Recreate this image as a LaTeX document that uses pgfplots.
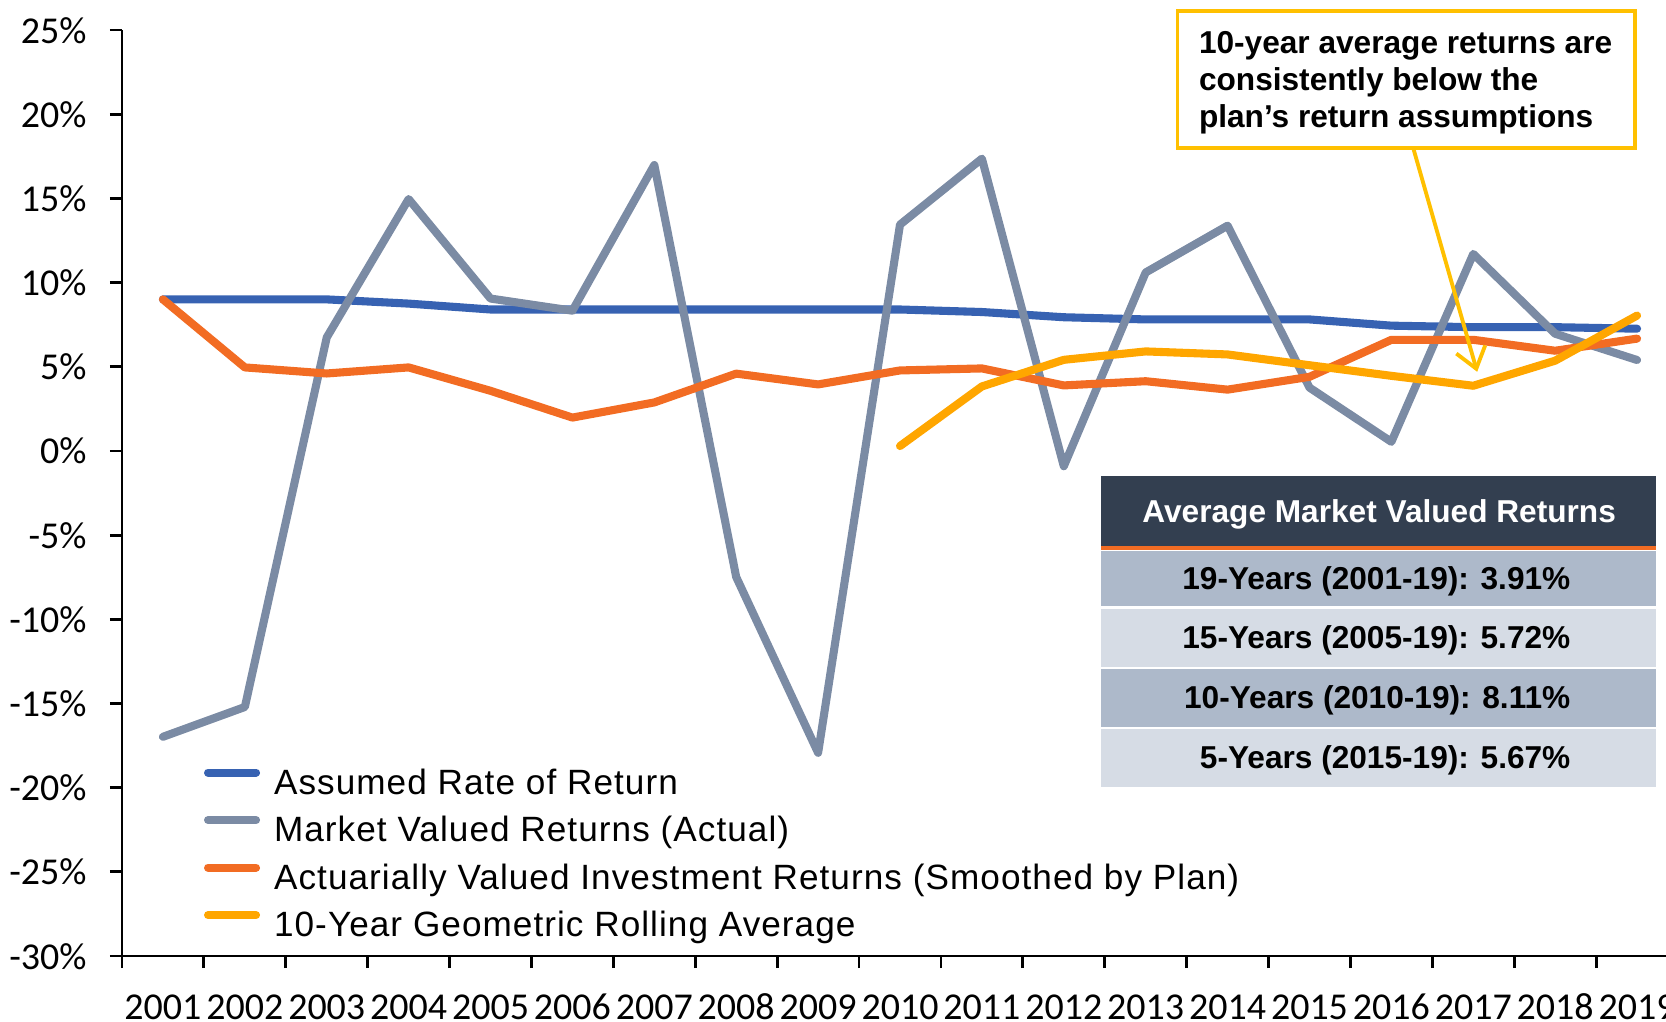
\documentclass[border=0pt]{standalone}
\usepackage{fontspec}
\setmainfont{Liberation Sans}
\newfontfamily\carlito{Carlito}
\newfontfamily\legfont{Liberation Sans}[LetterSpace=3]
\usepackage{pgfplots}
\pgfplotsset{compat=1.18}
\usetikzlibrary{arrows.meta}
\definecolor{cblue}{HTML}{3762B2}
\definecolor{cgray}{HTML}{7B8BA4}
\definecolor{corange}{HTML}{F26C23}
\definecolor{cyellow}{HTML}{FFA600}
\definecolor{boxyellow}{HTML}{FFC000}
\definecolor{hdr}{HTML}{333F50}
\definecolor{rowdark}{HTML}{ADB9CA}
\definecolor{rowlight}{HTML}{D6DCE5}

\pgfplotstableread{
x assumed market actuarial
1  9.00  -16.98  9.00
2  9.00  -15.21  4.96
3  9.00    6.74  4.60
4  8.75   14.96  4.96
5  8.40    9.05  3.57
6  8.40    8.33  1.98
7  8.40   16.98  2.88
8  8.40   -7.49  4.59
9  8.40  -17.93  3.95
10 8.40   13.44  4.78
11 8.25   17.36  4.90
12 7.94   -0.91  3.89
13 7.81   10.60  4.14
14 7.81   13.38  3.64
15 7.81    3.76  4.40
16 7.44    0.54  6.60
17 7.35   11.70  6.60
18 7.35    6.96  5.95
19 7.26    5.40  6.67
}\maindata

\pgfplotstableread{
x roll
10 0.29
11 3.83
12 5.41
13 5.91
14 5.73
15 5.09
16 4.46
17 3.87
18 5.36
19 8.04
}\rolldata

\begin{document}
\begin{tikzpicture}
\begin{axis}[
  at={(1.22cm,0.65cm)}, anchor=south west,
  scale only axis, width=15.56cm, height=9.26cm,
  xmin=0.5, xmax=19.5, ymin=-30, ymax=25,
  axis x line=bottom, axis y line=left,
  axis line style={-, line width=0.8pt, black},
  tick align=outside, major tick length=0.12cm,
  tick style={black, line width=0.8pt},
  xtick={0.5,1.5,2.5,3.5,4.5,5.5,6.5,7.5,8.5,9.5,10.5,11.5,12.5,13.5,14.5,15.5,16.5,17.5,18.5,19.5},
  x tick label as interval,
  xticklabels={2001,2002,2003,2004,2005,2006,2007,2008,2009,2010,2011,2012,2013,2014,2015,2016,2017,2018,2019},
  ytick={-30,-25,-20,-15,-10,-5,0,5,10,15,20,25},
  yticklabels={-30\%,-25\%,-20\%,-15\%,-10\%,-5\%,0\%,5\%,10\%,15\%,20\%,25\%},
  ticklabel style={font=\carlito\fontsize{10.8}{12}\selectfont, text height=0.26cm, text depth=0cm},
  xticklabel style={yshift=-0.13cm},
  yticklabel style={xshift=-0.11cm},
  clip=false,
  legend cell align=left,
  legend style={at={(0.0527,0.2025)}, anchor=north west, draw=none, fill=none,
    inner sep=0pt, outer sep=0pt, row sep=0.16cm, column sep=0.14cm,
    font=\legfont\fontsize{10}{11}\selectfont,
    nodes={inner sep=0pt, text height=0.25cm, text depth=0.06cm}},
  legend image code/.code={\draw[#1, line width=2.3pt, line cap=round] (0.04cm,0.12cm) -- (0.52cm,0.12cm);},
  every axis plot/.append style={line width=2.3pt, line cap=round, line join=round, mark=none},
]
\addplot[cblue] table[x=x, y=assumed] {\maindata};
\addlegendentry{Assumed Rate of Return}
\addplot[cgray] table[x=x, y=market] {\maindata};
\addlegendentry{Market Valued Returns (Actual)}
\addplot[corange] table[x=x, y=actuarial] {\maindata};
\addlegendentry{Actuarially Valued Investment Returns (Smoothed by Plan)}
\addplot[cyellow] table[x=x, y=roll] {\rolldata};
\addlegendentry{10-Year Geometric Rolling Average}
\end{axis}

\begin{scope}[x=0.01cm, y=-0.01cm, shift={(0cm,10.21cm)}]
  % annotation
  \draw[boxyellow, line width=1.1pt, -{Straight Barb[length=0.2cm, width=0.3cm, line width=1.1pt]}] (1414,148) -- (1478,372);
  \draw[boxyellow, line width=1pt, fill=white] (1178,11) rectangle (1636,148);
  \node[anchor=north west, align=left, inner sep=0pt, font=\bfseries\fontsize{9}{10.5}\selectfont] at (1199,31)
    {10-year average returns are\\consistently below the\\plan’s return assumptions};
  % table
  \fill[hdr] (1102,476) rectangle (1657,547);
  \fill[corange] (1102,546) rectangle (1657,550);
  \fill[rowdark] (1102,551) rectangle (1657,606);
  \fill[rowlight] (1102,609) rectangle (1657,667);
  \fill[rowdark] (1102,669) rectangle (1657,727);
  \fill[rowlight] (1102,729) rectangle (1657,787);
  \node[anchor=base, inner sep=0pt, text=white, font=\bfseries\fontsize{9}{10.5}\selectfont] at (1380,523) {Average Market Valued Returns};
  \node[anchor=base east, inner sep=0pt, font=\bfseries\fontsize{9}{10.5}\selectfont] at (1572,589.5) {19-Years (2001-19): 3.91\%};
  \node[anchor=base east, inner sep=0pt, font=\bfseries\fontsize{9}{10.5}\selectfont] at (1572,649) {15-Years (2005-19): 5.72\%};
  \node[anchor=base east, inner sep=0pt, font=\bfseries\fontsize{9}{10.5}\selectfont] at (1572,709) {10-Years (2010-19): 8.11\%};
  \node[anchor=base east, inner sep=0pt, font=\bfseries\fontsize{9}{10.5}\selectfont] at (1572,769) {5-Years (2015-19): 5.67\%};
\end{scope}
\pgfresetboundingbox
\path[use as bounding box] (0,0) rectangle (16.66cm,10.21cm);
\end{tikzpicture}
\end{document}
